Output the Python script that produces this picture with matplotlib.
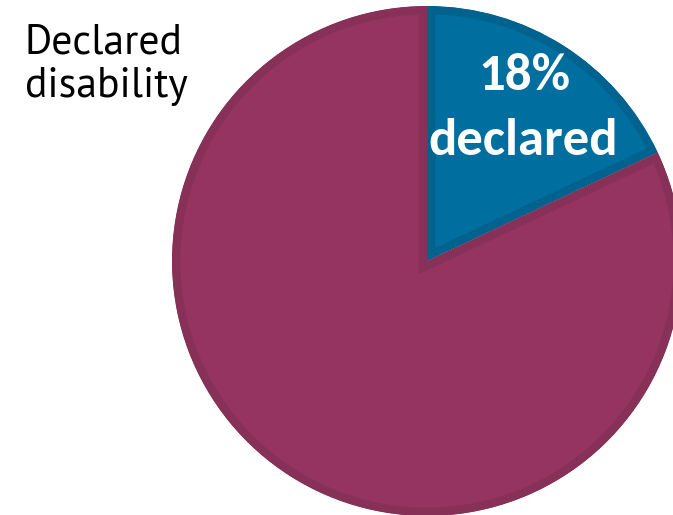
import matplotlib.pyplot as plt

# data
labels = ["Declared", "Not declared"]
shares = [18, 82]
colors = ["#006e9f", "#953361"]
edge_colors = ["#00628e", "#873058"]
title_lines = ["Declared", "disability"]

W, H, DPI = 673, 515, 100
cx, cy, r = 427, 261, 255  # pie centre / radius in pixels

fig = plt.figure(figsize=(W / DPI, H / DPI), dpi=DPI)
ax = fig.add_axes([0, 0, 1, 1])
ax.axis("off")

wedges, _ = ax.pie(shares, colors=colors, startangle=90, counterclock=False,
                   radius=1, center=(0, 0))
ax.set_xlim(-cx / r, (W - cx) / r)
ax.set_ylim(-(H - cy) / r, cy / r)

# darker inner rim on each slice: wide edge clipped to the slice itself
for w, ec in zip(wedges, edge_colors):
    w.set_edgecolor(ec)
    w.set_linewidth(12)
    w.set_clip_on(True)  # pie turns clipping off
    w.set_clip_path(w)

title_font = ["PT Sans", "Noto Sans", "DejaVu Sans"]
for line, base in zip(title_lines, [54, 97]):
    fig.text(25 / W, 1 - base / H, line, fontsize=30, family=title_font,
             va="baseline", ha="left")

label_font = ["Carlito", "Lato", "DejaVu Sans"]
fig.text(524 / W, 1 - 90 / H, f"{shares[0]}%", fontsize=38, weight="bold",
         family=label_font, color="white", ha="center", va="baseline")
fig.text(523 / W, 1 - 155 / H, "declared", fontsize=38, weight="bold",
         family=label_font, color="white", ha="center", va="baseline")

plt.savefig("out.png", dpi=DPI)
